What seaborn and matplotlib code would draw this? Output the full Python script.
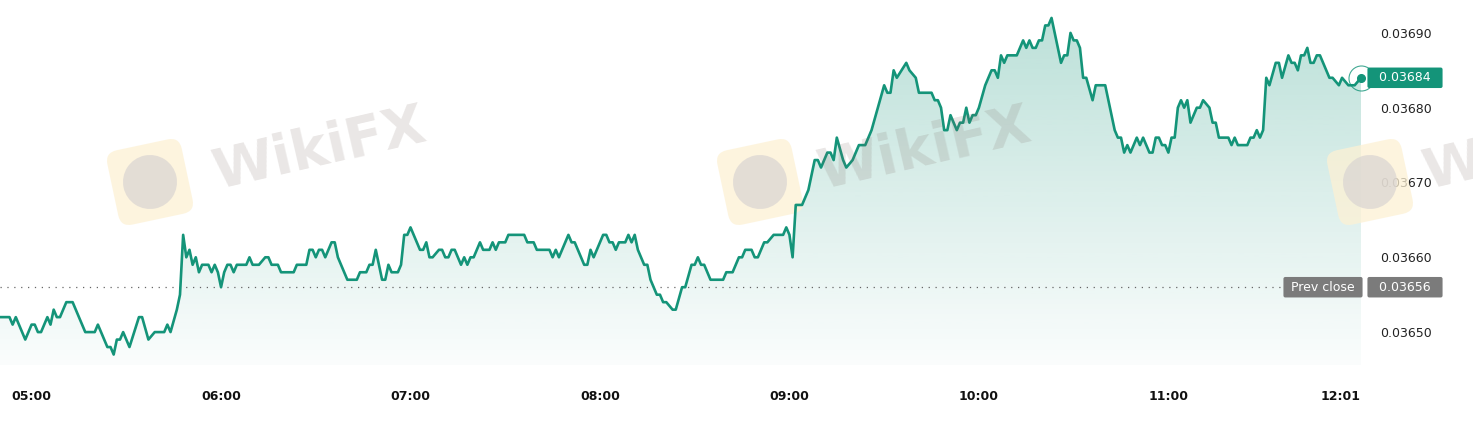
import numpy as np
import pandas as pd
import matplotlib
matplotlib.use("Agg")
import matplotlib.pyplot as plt
import matplotlib.dates as mdates
from matplotlib.colors import to_rgb
from matplotlib.patches import FancyBboxPatch, Circle
from matplotlib.transforms import Affine2D, blended_transform_factory
import seaborn as sns

# intraday quotes (HH:MM, price)
times = [
    "04:50", "04:53", "04:54", "04:55", "04:58",
    "05:00", "05:01", "05:02", "05:03", "05:05", "05:06", "05:07", "05:08", "05:09", "05:11",
    "05:13", "05:17", "05:20", "05:21", "05:24", "05:25", "05:26", "05:27", "05:28", "05:29",
    "05:31", "05:34", "05:35", "05:37", "05:39", "05:42", "05:43", "05:44", "05:46", "05:47",
    "05:48", "05:49", "05:50", "05:51", "05:52", "05:53", "05:54", "05:56", "05:57", "05:58",
    "05:59",
    "06:00", "06:01", "06:02", "06:03", "06:04", "06:05", "06:08", "06:09", "06:10", "06:12",
    "06:14", "06:15", "06:16", "06:18", "06:19", "06:23", "06:24", "06:27", "06:28", "06:29",
    "06:30", "06:31", "06:32", "06:33", "06:35", "06:36", "06:37", "06:40", "06:43", "06:44",
    "06:46", "06:47", "06:48", "06:49", "06:51", "06:52", "06:53", "06:54", "06:56", "06:57",
    "06:58", "06:59",
    "07:00", "07:03", "07:04", "07:05", "07:06", "07:07", "07:09", "07:10", "07:11", "07:12",
    "07:13", "07:14", "07:16", "07:17", "07:18", "07:19", "07:20", "07:22", "07:23", "07:25",
    "07:26", "07:27", "07:28", "07:30", "07:31", "07:36", "07:37", "07:39", "07:40", "07:44",
    "07:45", "07:46", "07:47", "07:49", "07:50", "07:51", "07:52", "07:55", "07:56", "07:57",
    "07:58",
    "08:01", "08:02", "08:03", "08:04", "08:05", "08:06", "08:08", "08:09", "08:10", "08:11",
    "08:12", "08:14", "08:15", "08:16", "08:18", "08:19", "08:20", "08:21", "08:23", "08:24",
    "08:26", "08:27", "08:29", "08:30", "08:31", "08:32", "08:33", "08:35", "08:39", "08:40",
    "08:42", "08:44", "08:45", "08:46", "08:48", "08:49", "08:50", "08:52", "08:53", "08:55",
    "08:58", "08:59",
    "09:00", "09:01", "09:02", "09:04", "09:06", "09:07", "09:08", "09:09", "09:10", "09:12",
    "09:13", "09:14", "09:15", "09:17", "09:18", "09:20", "09:22", "09:24", "09:26", "09:28",
    "09:30", "09:31", "09:32", "09:33", "09:34", "09:37", "09:38", "09:40", "09:41", "09:45",
    "09:46", "09:47", "09:48", "09:49", "09:50", "09:51", "09:53", "09:54", "09:55", "09:56",
    "09:57", "09:58", "09:59",
    "10:00", "10:02", "10:03", "10:04", "10:05", "10:06", "10:07", "10:08", "10:09", "10:12",
    "10:14", "10:15", "10:16", "10:17", "10:18", "10:19", "10:20", "10:21", "10:22", "10:23",
    "10:26", "10:27", "10:28", "10:29", "10:30", "10:31", "10:32", "10:33", "10:34", "10:36",
    "10:37", "10:40", "10:42", "10:43", "10:44", "10:45", "10:46", "10:47", "10:48", "10:50",
    "10:51", "10:52", "10:54", "10:55", "10:56", "10:57", "10:58", "10:59",
    "11:00", "11:01", "11:02", "11:03", "11:04", "11:05", "11:06", "11:07", "11:09", "11:10",
    "11:11", "11:13", "11:14", "11:15", "11:16", "11:19", "11:20", "11:21", "11:22", "11:25",
    "11:26", "11:27", "11:28", "11:29", "11:30", "11:31", "11:32", "11:34", "11:35", "11:36",
    "11:38", "11:39", "11:40", "11:41", "11:42", "11:43", "11:44", "11:45", "11:46", "11:47",
    "11:48", "11:51", "11:52", "11:54", "11:55", "11:57", "11:59", "12:01",
]
prices = [
    0.03652, 0.03652, 0.03651, 0.03652, 0.03649,
    0.03651, 0.03651, 0.03650, 0.03650, 0.03652, 0.03651, 0.03653, 0.03652, 0.03652, 0.03654,
    0.03654, 0.03650, 0.03650, 0.03651, 0.03648, 0.03648, 0.03647, 0.03649, 0.03649, 0.03650,
    0.03648, 0.03652, 0.03652, 0.03649, 0.03650, 0.03650, 0.03651, 0.03650, 0.03653, 0.03655,
    0.03663, 0.03660, 0.03661, 0.03659, 0.03660, 0.03658, 0.03659, 0.03659, 0.03658, 0.03659,
    0.03658,
    0.03656, 0.03658, 0.03659, 0.03659, 0.03658, 0.03659, 0.03659, 0.03660, 0.03659, 0.03659,
    0.03660, 0.03660, 0.03659, 0.03659, 0.03658, 0.03658, 0.03659, 0.03659, 0.03661, 0.03661,
    0.03660, 0.03661, 0.03661, 0.03660, 0.03662, 0.03662, 0.03660, 0.03657, 0.03657, 0.03658,
    0.03658, 0.03659, 0.03659, 0.03661, 0.03657, 0.03657, 0.03659, 0.03658, 0.03658, 0.03659,
    0.03663, 0.03663,
    0.03664, 0.03661, 0.03661, 0.03662, 0.03660, 0.03660, 0.03661, 0.03661, 0.03660, 0.03660,
    0.03661, 0.03661, 0.03659, 0.03660, 0.03659, 0.03660, 0.03660, 0.03662, 0.03661, 0.03661,
    0.03662, 0.03661, 0.03662, 0.03662, 0.03663, 0.03663, 0.03662, 0.03662, 0.03661, 0.03661,
    0.03660, 0.03661, 0.03660, 0.03662, 0.03663, 0.03662, 0.03662, 0.03659, 0.03659, 0.03661,
    0.03660,
    0.03663, 0.03663, 0.03662, 0.03662, 0.03661, 0.03662, 0.03662, 0.03663, 0.03662, 0.03663,
    0.03661, 0.03659, 0.03659, 0.03657, 0.03655, 0.03655, 0.03654, 0.03654, 0.03653, 0.03653,
    0.03656, 0.03656, 0.03659, 0.03659, 0.03660, 0.03659, 0.03659, 0.03657, 0.03657, 0.03658,
    0.03658, 0.03660, 0.03660, 0.03661, 0.03661, 0.03660, 0.03660, 0.03662, 0.03662, 0.03663,
    0.03663, 0.03664,
    0.03663, 0.03660, 0.03667, 0.03667, 0.03669, 0.03671, 0.03673, 0.03673, 0.03672, 0.03674,
    0.03674, 0.03673, 0.03676, 0.03673, 0.03672, 0.03673, 0.03675, 0.03675, 0.03677, 0.03680,
    0.03683, 0.03682, 0.03682, 0.03685, 0.03684, 0.03686, 0.03685, 0.03684, 0.03682, 0.03682,
    0.03681, 0.03681, 0.03680, 0.03677, 0.03677, 0.03679, 0.03677, 0.03678, 0.03678, 0.03680,
    0.03678, 0.03679, 0.03679,
    0.03680, 0.03683, 0.03684, 0.03685, 0.03685, 0.03684, 0.03687, 0.03686, 0.03687, 0.03687,
    0.03689, 0.03688, 0.03689, 0.03688, 0.03688, 0.03689, 0.03689, 0.03691, 0.03691, 0.03692,
    0.03686, 0.03687, 0.03687, 0.03690, 0.03689, 0.03689, 0.03688, 0.03684, 0.03684, 0.03681,
    0.03683, 0.03683, 0.03679, 0.03677, 0.03676, 0.03676, 0.03674, 0.03675, 0.03674, 0.03676,
    0.03675, 0.03676, 0.03674, 0.03674, 0.03676, 0.03676, 0.03675, 0.03675,
    0.03674, 0.03676, 0.03676, 0.03680, 0.03681, 0.03680, 0.03681, 0.03678, 0.03680, 0.03680,
    0.03681, 0.03680, 0.03678, 0.03678, 0.03676, 0.03676, 0.03675, 0.03676, 0.03675, 0.03675,
    0.03676, 0.03676, 0.03677, 0.03676, 0.03677, 0.03684, 0.03683, 0.03686, 0.03686, 0.03684,
    0.03687, 0.03686, 0.03686, 0.03685, 0.03687, 0.03687, 0.03688, 0.03686, 0.03686, 0.03687,
    0.03687, 0.03684, 0.03684, 0.03683, 0.03684, 0.03683, 0.03683, 0.03684,
]
prev_close = 0.03656
y_ticks = [0.03650, 0.03660, 0.03670, 0.03680, 0.03690]
x_ticks = ["05:00", "06:00", "07:00", "08:00", "09:00", "10:00", "11:00"]

green = "#149479"
day = "2024-01-01 "

df = pd.DataFrame({"time": pd.to_datetime([day + t for t in times]), "price": prices})

sns.set_theme(style="white")
plt.rcParams["font.family"] = ["DejaVu Sans"]

fig = plt.figure(figsize=(14.73, 4.42), dpi=100)
ax = fig.add_axes([0, 77 / 442, 1361 / 1473, 365 / 442])
ax.patch.set_alpha(0)

sns.lineplot(data=df, x="time", y="price", color=green, lw=1.9,
             estimator=None, ax=ax, zorder=4)

# gradient area under the line
ylo, yhi = 0.036456, 0.036944
xn = mdates.date2num(df["time"])
poly = ax.fill_between(xn, df["price"], ylo, color="none", lw=0)
rgba = np.zeros((256, 1, 4))
rgba[..., :3] = to_rgb(green)
rgba[..., 3] = np.linspace(0.30, 0.02, 256).reshape(-1, 1)
img = ax.imshow(rgba, extent=[xn[0], xn[-1], ylo, yhi], aspect="auto",
                origin="upper", zorder=1, interpolation="bilinear")
img.set_clip_path(poly.get_paths()[0], ax.transData)

# previous close
ax.axhline(prev_close, color="#666666", lw=0.9, ls=(0, (1, 4.5)), zorder=2)

ax.set_xlim(df["time"].iloc[0], df["time"].iloc[-1])
ax.set_ylim(ylo, yhi)
sns.despine(ax=ax, left=True, bottom=True)
ax.grid(False)
ax.set_xlabel("")
ax.set_ylabel("")

ax.yaxis.tick_right()
ax.set_yticks(y_ticks)
ax.set_yticklabels([f"{v:.5f}" for v in y_ticks])
ax.tick_params(axis="y", length=0, pad=14, labelsize=9, labelcolor="#222222")

tick_times = [pd.Timestamp(day + t) for t in x_ticks] + [df["time"].iloc[-1]]
ax.set_xticks(tick_times)
ax.set_xticklabels(x_ticks + [df["time"].iloc[-1].strftime("%H:%M")], fontweight="bold")
ax.tick_params(axis="x", length=0, pad=18, labelsize=9, labelcolor="#111111")
ax.get_xticklabels()[-1].set_ha("right")

# last price marker
last_t, last_p = df["time"].iloc[-1], df["price"].iloc[-1]
ax.plot([last_t], [last_p], "o", ms=18, mfc="none", mec=green, mew=0.8,
        alpha=0.8, clip_on=False, zorder=5)
ax.plot([last_t], [last_p], "o", ms=5.5, color=green, clip_on=False, zorder=6)

# price labels on the right
trans = blended_transform_factory(ax.transAxes, ax.transData)
ax.text(1405 / 1361, last_p, f"  {last_p:.5f}  ", transform=trans, ha="center",
        va="center", color="white", fontsize=9, clip_on=False, zorder=7,
        bbox=dict(boxstyle="round,pad=0.3,rounding_size=0.15", fc=green, ec="none"))
ax.text(1405 / 1361, prev_close, f"  {prev_close:.5f}  ", transform=trans,
        ha="center", va="center", color="white", fontsize=9, clip_on=False, zorder=7,
        bbox=dict(boxstyle="round,pad=0.3,rounding_size=0.15", fc="#7b7b7b", ec="none"))
ax.text(1323 / 1361, prev_close, " Prev close ", transform=trans, ha="center",
        va="center", color="white", fontsize=9, clip_on=False, zorder=7,
        bbox=dict(boxstyle="round,pad=0.3,rounding_size=0.15", fc="#7b7b7b", ec="none"))

# WikiFX watermarks
for lx, tx in [(150, 320), (760, 925), (1370, 1530)]:
    cx, cy = lx / 100, (442 - 182) / 100
    tr = Affine2D().rotate_deg_around(cx, cy, 12) + fig.dpi_scale_trans
    ax.add_patch(FancyBboxPatch((cx - 0.38, cy - 0.38), 0.76, 0.76,
                                boxstyle="round,pad=0,rounding_size=0.12",
                                fc="#fdf1d4", ec="none", alpha=0.75,
                                transform=tr, clip_on=False, zorder=2.5))
    ax.add_patch(Circle((cx, cy), 0.27, fc="#d9d4d2", ec="none", alpha=0.7,
                        transform=tr, clip_on=False, zorder=2.6))
    fig.text(tx / 1473, 1 - 150 / 442, "WikiFX", rotation=13, ha="center",
             va="center", fontsize=40, fontweight="bold", color="#7a6660",
             alpha=0.16, zorder=0.5)

fig.savefig("out.png", dpi=100)
